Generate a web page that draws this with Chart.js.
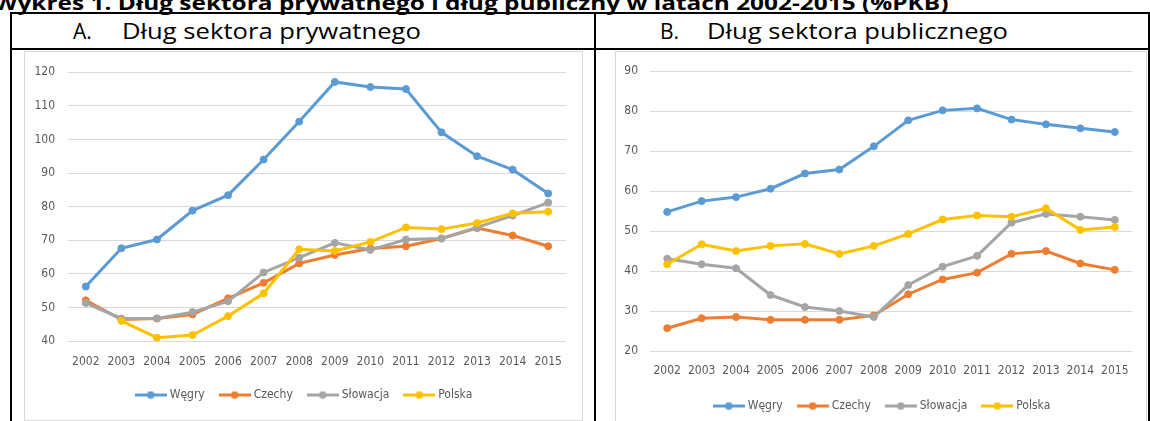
<!DOCTYPE html>
<html>
<head>
<meta charset="utf-8">
<script src="https://cdn.jsdelivr.net/npm/chart.js@4.4.0/dist/chart.umd.min.js"></script>
<style>
  html, body { margin: 0; padding: 0; background: #fff; }
  #page { position: relative; width: 1150px; height: 421px; overflow: hidden; }
  .rule { position: absolute; background: #000; }
  .title { position: absolute; right: 202px; top: -7px; font: bold 20px "Open Sans", sans-serif; line-height: 20px; white-space: nowrap; color: #000; transform: scaleX(1.22); transform-origin: 100% 0; }
  .head { position: absolute; top: 21px; font: 21px "Open Sans", sans-serif; line-height: 21px; white-space: nowrap; color: #000; }
  .wide { transform: scaleX(1.22); transform-origin: 0 0; }
  .box { position: absolute; border: 1px solid #d9d9d9; box-sizing: border-box; }
  canvas { position: absolute; }
</style>
</head>
<body>
<div id="page">
  <div class="title">Wykres 1. Dług sektora prywatnego i dług publiczny w latach 2002-2015 (%PKB)</div>

  <div class="rule" style="left:10px; top:12px; width:1140px; height:2px;"></div>
  <div class="rule" style="left:10px; top:48px; width:1140px; height:2px;"></div>
  <div class="rule" style="left:10px; top:12px; width:2px; height:409px;"></div>
  <div class="rule" style="left:594px; top:12px; width:2px; height:409px;"></div>
  <div class="rule" style="left:1148px; top:12px; width:2px; height:409px;"></div>

  <div class="head" style="left:73px;">A.</div>
  <div class="head wide" style="left:122px;">Dług sektora prywatnego</div>
  <div class="head" style="left:660px;">B.</div>
  <div class="head wide" style="left:707px;">Dług sektora publicznego</div>

  <div class="box" style="left:24px; top:51px; width:559px; height:370px;"></div>
  <div class="box" style="left:615px; top:51px; width:532px; height:380px;"></div>

  <canvas id="chartA" width="556" height="367" style="left:25px; top:52px;"></canvas>
  <canvas id="chartB" width="529" height="372" style="left:616px; top:52px;"></canvas>
</div>

<script>
// years on the x axis (both panels)
const years = ['2002', '2003', '2004', '2005', '2006', '2007', '2008',
               '2009', '2010', '2011', '2012', '2013', '2014', '2015'];

const seriesNames = ['Węgry', 'Czechy', 'Słowacja', 'Polska'];
const seriesColors = ['#5B9BD5', '#ED7D31', '#A5A5A5', '#FFC000'];

// A. private sector debt (% GDP)
const privHungary  = [56.2, 67.6, 70.2, 78.8, 83.4, 94.0, 105.3, 117.1, 115.6, 115.0, 102.1, 95.0, 91.0, 83.9];
const privCzech    = [52.1, 46.4, 46.7, 47.9, 52.7, 57.3, 63.1, 65.6, 67.5, 68.2, 70.5, 73.6, 71.4, 68.2];
const privSlovakia = [51.3, 46.7, 46.7, 48.6, 51.8, 60.4, 64.8, 69.2, 67.1, 70.2, 70.5, 73.8, 77.3, 81.2];
const privPoland   = [null, 46.0, 41.0, 41.8, 47.4, 54.2, 67.3, 66.8, 69.5, 73.8, 73.3, 75.1, 78.0, 78.5];

// B. public debt (% GDP)
const pubHungary  = [54.8, 57.5, 58.5, 60.6, 64.4, 65.4, 71.2, 77.7, 80.2, 80.7, 77.9, 76.7, 75.7, 74.8];
const pubCzech    = [25.7, 28.2, 28.5, 27.8, 27.8, 27.8, 28.9, 34.2, 37.9, 39.6, 44.3, 45.0, 41.9, 40.3];
const pubSlovakia = [43.1, 41.7, 40.7, 34.0, 31.0, 30.0, 28.5, 36.5, 41.1, 43.8, 52.1, 54.3, 53.6, 52.8];
const pubPoland   = [41.7, 46.7, 45.0, 46.3, 46.8, 44.3, 46.3, 49.3, 52.9, 53.9, 53.6, 55.7, 50.3, 51.0];

// y axis ranges
const privAxis = { min: 40, max: 120, step: 10 };
const pubAxis  = { min: 20, max: 90,  step: 10 };

const tickFont = { family: '"DejaVu Sans Condensed", "Liberation Sans Narrow", sans-serif', size: 12 };
const textColor = '#595959';
const gridColor = '#d9d9d9';

// line + marker swatch, like the spreadsheet legend
function legendIcon(color) {
    const c = document.createElement('canvas');
    c.width = 32;
    c.height = 9;
    const g = c.getContext('2d');
    g.strokeStyle = color;
    g.lineWidth = 3;
    g.beginPath();
    g.moveTo(0, 4.5);
    g.lineTo(32, 4.5);
    g.stroke();
    g.fillStyle = color;
    g.beginPath();
    g.arc(16, 4.5, 3.8, 0, Math.PI * 2);
    g.fill();
    return c;
}

const icons = seriesColors.map(legendIcon);

// nudges the legend sideways so it sits where the source has it
const legendShift = {
    id: 'legendShift',
    afterLayout(chart, args, opts) {
        const lg = chart.legend;
        if (!lg || !opts.dx) return;
        lg.left += opts.dx;
        lg.right += opts.dx;
    }
};

function buildDatasets(values) {
    return values.map((data, i) => ({
        label: seriesNames[i],
        data: data,
        borderColor: seriesColors[i],
        backgroundColor: seriesColors[i],
        pointBackgroundColor: seriesColors[i],
        pointBorderColor: seriesColors[i],
        borderWidth: 3,
        pointRadius: 3.5,
        pointBorderWidth: 1,
        tension: 0,
        fill: false,
        // later series drawn on top, as in the source
        order: values.length - 1 - i
    }));
}

function makeChart(canvasId, values, axis, geo) {
    return new Chart(document.getElementById(canvasId), {
        type: 'line',
        data: {
            labels: years,
            datasets: buildDatasets(values)
        },
        plugins: [legendShift],
        options: {
            responsive: false,
            animation: false,
            layout: { padding: geo.padding },
            plugins: {
                tooltip: { enabled: false },
                legendShift: { dx: geo.legendDx },
                legend: {
                    position: 'bottom',
                    labels: {
                        usePointStyle: true,
                        pointStyleWidth: 26,
                        padding: 17,
                        color: textColor,
                        font: tickFont,
                        generateLabels: (chart) => chart.data.datasets.map((ds, i) => ({
                            text: ds.label,
                            pointStyle: icons[i],
                            fillStyle: ds.borderColor,
                            strokeStyle: ds.borderColor,
                            lineWidth: 0,
                            hidden: false,
                            fontColor: textColor,
                            datasetIndex: i
                        }))
                    }
                }
            },
            scales: {
                x: {
                    offset: true,
                    grid: { display: false, drawTicks: false },
                    border: { display: false },
                    ticks: { color: textColor, font: tickFont, padding: geo.xPad, maxRotation: 0, autoSkip: false },
                    afterFit: (scale) => { scale.height = geo.xHeight; }
                },
                y: {
                    min: axis.min,
                    max: axis.max,
                    grid: { color: gridColor, lineWidth: 1, drawTicks: false },
                    border: { display: false },
                    ticks: { stepSize: axis.step, color: textColor, font: tickFont, padding: geo.yPad },
                    afterFit: (scale) => { scale.width = geo.yWidth; }
                }
            }
        }
    });
}

makeChart('chartA', [privHungary, privCzech, privSlovakia, privPoland], privAxis, {
    padding: { left: 8, right: 15, top: 17, bottom: 8 },
    yWidth: 35, yPad: 13, xPad: 13.8, xHeight: 31, legendDx: 5.5
});

makeChart('chartB', [pubHungary, pubCzech, pubSlovakia, pubPoland], pubAxis, {
    padding: { left: 6, right: 13, top: 18, bottom: 2 },
    yWidth: 28, yPad: 12, xPad: 12.8, xHeight: 32, legendDx: 6
});
</script>
</body>
</html>
